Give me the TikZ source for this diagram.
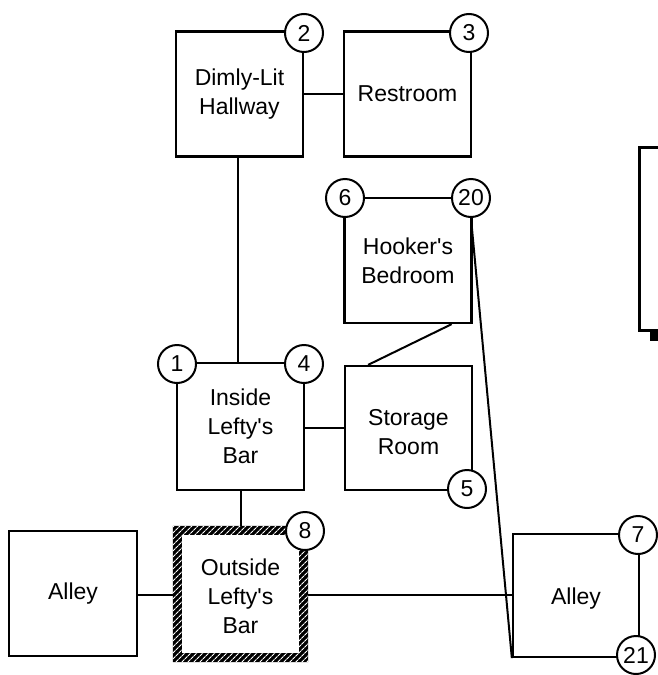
\documentclass[tikz,border=0pt]{standalone}
\usepackage{fontspec}
\setmainfont{Liberation Sans}[Ligatures=TeXOff]
\usetikzlibrary{calc,patterns.meta}
\begin{document}
\begin{tikzpicture}[x=1pt,y=-1pt,
  txt/.style={align=center,inner sep=0pt,font=\fontsize{23}{29}\selectfont},
  room/.style={draw,line width=2.3pt,inner sep=0pt,minimum width=#1,minimum height=125pt,txt},
  room/.default=127pt,
  num/.style={circle,draw,fill=white,line width=2pt,minimum size=38pt,inner sep=0pt,font=\fontsize{23}{23}\selectfont},
  link/.style={line width=2pt}]
\useasboundingbox (0,0) rectangle (658,675);
\clip (0,0) rectangle (658,675);
% rooms
\node[room] (hall) at (239.5,94) {Dimly-Lit\\Hallway};
\node[room] (rest) at (407.5,94) {Restroom};
\node[room] (hook) at (408,260.5) {Hooker's\\Bedroom};
\node[room,minimum height=127pt] (inside) at (240.5,426.5) {Inside\\Lefty's\\Bar};
\node[room,minimum height=124pt] (store) at (408.5,428) {};
\node[txt] (storetxt) at ([yshift=-4pt]store.center) {Storage\\Room};
\node[inner sep=0pt,minimum width=135pt,minimum height=136pt] (outside) at (240.5,594) {};
\node[txt] (outsidetxt) at ([yshift=-2pt]outside.center) {Outside\\Lefty's\\Bar};
\node[room,minimum width=128pt] (alleyL) at (73,593.5) {Alley};
\node[room,minimum width=126pt,minimum height=123pt] (alleyR) at (576,595.5) {};
\node[txt] (alleyRtxt) at ([yshift=-3pt]alleyR.center) {Alley};
% hatched border
\fill[black,even odd rule] (outside.north west) rectangle (outside.south east)
  ($(outside.north west)+(9,9)$) rectangle ($(outside.south east)+(-9,-9)$);
\fill[pattern={Lines[angle=45,distance=4pt,line width=1.1pt]},pattern color=white,even odd rule]
  (outside.north west) rectangle (outside.south east)
  ($(outside.north west)+(9,9)$) rectangle ($(outside.south east)+(-9,-9)$);
% partial box at right edge
\draw[line width=3pt] (700,147) -| (639,330) -- (700,330);
\fill (650,330) rectangle (658,341);
% connectors
\draw[link] (hall.east) -- (rest.west);
\draw[link] ([xshift=-1.5pt]hall.south) -- ([xshift=-1.5pt]hall.south |- inside.north);
\draw[link] ([yshift=-1pt]inside.east) -- ([yshift=-1pt]inside.east -| store.west);
\draw[link] ([xshift=-21pt]hook.south east) -- ([xshift=-105pt]store.north east);
\draw[link] (inside.south) -- (inside.south |- outside.north);
\draw[link] ([yshift=-1pt]alleyL.east) -- ([yshift=-1pt]alleyL.east -| outside.west);
\draw[link] ([yshift=-1pt]outside.east) -- ([yshift=-1pt]outside.east -| alleyR.west);
% circles
\node[num] (c2) at (304,33) {2};
\node[num] (c3) at (469,33) {3};
\node[num] (c6) at (345,198) {6};
\node[num] (c20) at (471,198) {20};
\node[num] (c1) at (177,364) {1};
\node[num] (c4) at (304,364) {4};
\node[num] (c5) at (467,489) {5};
\node[num] (c8) at (305,531) {8};
\node[num] (c7) at (638,535) {7};
\node[num] (c21) at (636,655) {21};
\draw[link] (c20.south) -- (alleyR.south west);
\end{tikzpicture}
\end{document}
